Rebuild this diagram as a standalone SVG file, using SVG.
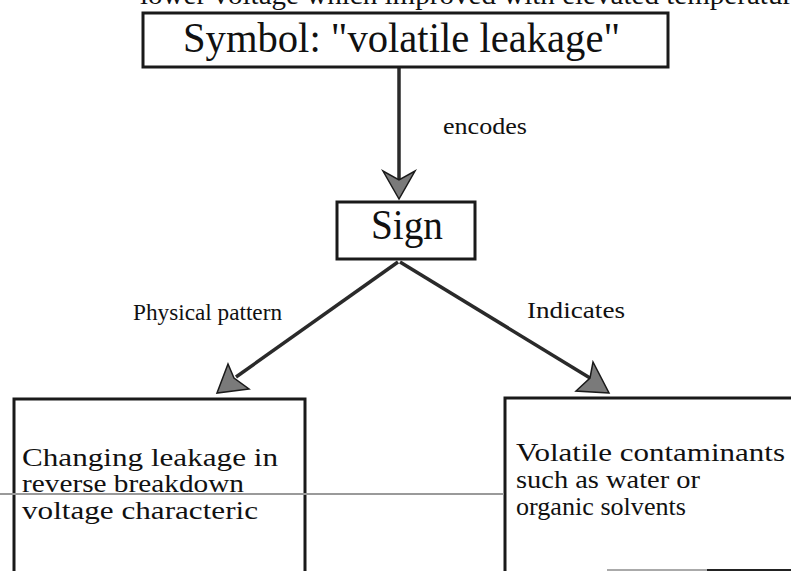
<svg xmlns="http://www.w3.org/2000/svg" width="791" height="571" viewBox="0 0 791 571">
  <style>
    .serif { font-family: "Liberation Serif", "Times New Roman", serif; fill: #111; }
    .box { fill: #fff; stroke: #1a1a1a; stroke-width: 3; }
    .edge { stroke: #2a2a2a; stroke-width: 3.5; fill: none; }
    .head { fill: #7a7a7a; stroke: #1a1a1a; stroke-width: 1.5; stroke-linejoin: miter; }
    .title { font-size: 43px; }
    .label { font-size: 23px; }
    .body { font-size: 25px; }
  </style>

  <rect width="791" height="571" fill="#fff"/>

  <!-- running text line cut by the top edge -->
  <text class="serif" x="140" y="4" font-size="28" textLength="665" lengthAdjust="spacingAndGlyphs">lower voltage which improved with elevated temperature</text>

  <!-- connectors -->
  <g id="connectors">
    <line class="edge" x1="399" y1="68" x2="399" y2="180"/>
    <path class="head" d="M399,199 L383,171 L399,180 L415,171 Z"/>

    <line class="edge" x1="398" y1="262" x2="236" y2="377"/>
    <path class="head" d="M217,393 L228,364 L234,378 L249,389 Z"/>

    <line class="edge" x1="400" y1="262" x2="590" y2="378"/>
    <path class="head" d="M609,393 L576,391 L590,378 L593,362 Z"/>

    <text class="serif label" x="443" y="134" textLength="84" lengthAdjust="spacingAndGlyphs">encodes</text>
    <text class="serif label" x="133" y="320" textLength="149" lengthAdjust="spacingAndGlyphs">Physical pattern</text>
    <text class="serif label" x="527" y="318" textLength="98" lengthAdjust="spacingAndGlyphs">Indicates</text>
  </g>

  <g id="symbol">
    <rect class="box" x="143" y="13" width="525" height="54"/>
    <text class="serif title" x="183" y="52" textLength="437" lengthAdjust="spacingAndGlyphs">Symbol: "volatile leakage"</text>
  </g>

  <g id="sign">
    <rect class="box" x="337" y="202" width="138" height="57"/>
    <text class="serif title" x="371" y="239" textLength="72" lengthAdjust="spacingAndGlyphs">Sign</text>
  </g>

  <g id="pattern">
    <path class="box" d="M14,575 L14,399 L305,399 L305,575"/>
    <text class="serif body" x="22" y="466" textLength="256" lengthAdjust="spacingAndGlyphs">Changing leakage in</text>
    <text class="serif body" x="22" y="492" textLength="222" lengthAdjust="spacingAndGlyphs">reverse breakdown</text>
    <text class="serif body" x="22" y="519" textLength="236" lengthAdjust="spacingAndGlyphs">voltage characteric</text>
  </g>

  <g id="contaminants">
    <path class="box" d="M505,575 L505,398 L795,398"/>
    <text class="serif body" x="516" y="461" textLength="269" lengthAdjust="spacingAndGlyphs">Volatile contaminants</text>
    <text class="serif body" x="516" y="488" textLength="184" lengthAdjust="spacingAndGlyphs">such as water or</text>
    <text class="serif body" x="516" y="515" textLength="170" lengthAdjust="spacingAndGlyphs">organic solvents</text>
  </g>

  <!-- page rules -->
  <line x1="0" y1="494" x2="504" y2="494" stroke="#9a9a9a" stroke-width="2"/>
  <line x1="607" y1="570" x2="707" y2="570" stroke="#aaa" stroke-width="2"/>
  <line x1="707" y1="570" x2="791" y2="570" stroke="#222" stroke-width="2"/>
</svg>
